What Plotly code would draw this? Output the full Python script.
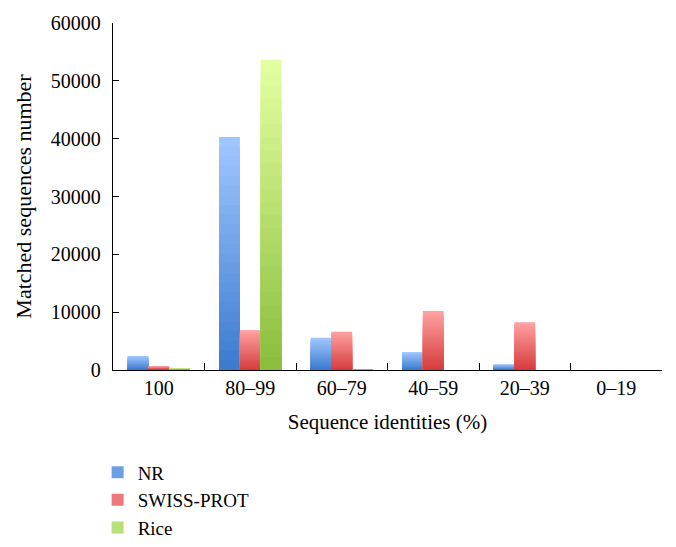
import plotly.graph_objects as go

categories = ["100", "80–99", "60–79", "40–59", "20–39", "0–19"]
nr_values = [2420, 40300, 5580, 3100, 980, 0]
swiss_values = [640, 6900, 6620, 10190, 8240, 0]
rice_values = [290, 53650, 90, 0, 0, 0]

series_names = ["NR", "SWISS-PROT", "Rice"]
series_values = [nr_values, swiss_values, rice_values]
top_colors = [(160, 198, 255), (255, 160, 160), (226, 255, 160)]
bottom_colors = [(60, 124, 206), (214, 62, 62), (140, 190, 62)]
legend_colors = ["#6d9fe6", "#ec7a7a", "#b6e07a"]

FONT = "Liberation Serif"
N = 24

fig = go.Figure()
for s, (name, vals) in enumerate(zip(series_names, series_values)):
    t0, b0 = top_colors[s], bottom_colors[s]
    for k in range(N):
        f = k / (N - 1)
        col = "rgb({},{},{})".format(*[round(t0[i] + (b0[i] - t0[i]) * f) for i in range(3)])
        frac = 1 - k / N
        fig.add_trace(go.Bar(
            x=categories,
            y=[v * frac for v in vals],
            name=name,
            offsetgroup=str(s),
            legendgroup=name,
            showlegend=False,
            marker=dict(color=col, line=dict(width=0)),
            hoverinfo="skip",
        ))
for s, name in enumerate(series_names):
    fig.add_trace(go.Bar(
        x=[None], y=[None], name=name, legendgroup=name, showlegend=True,
        marker=dict(color=legend_colors[s], line=dict(width=0)),
        offsetgroup=str(s),
    ))

fig.update_layout(
    width=676, height=547,
    margin=dict(l=105, r=22, t=15, b=185, autoexpand=False),
    barmode="group",
    bargap=0.32,
    bargroupgap=0,
    plot_bgcolor="white",
    paper_bgcolor="white",
    font=dict(family=FONT, size=20, color="black"),
    legend=dict(
        x=-0.028, y=-0.24, xanchor="left", yanchor="top",
        orientation="v", tracegroupgap=0,
        font=dict(family=FONT, size=19, color="black"),
        bgcolor="rgba(0,0,0,0)",
    ),
    xaxis=dict(
        showline=True, linecolor="black", linewidth=1.3,
        ticks="inside", ticklen=7, tickwidth=1.3, tickcolor="black",
        tickson="boundaries",
        tickfont=dict(family=FONT, size=20),
        title=dict(text="Sequence identities (%)", font=dict(family=FONT, size=21), standoff=16),
        showgrid=False, automargin=False,
    ),
    yaxis=dict(
        range=[0, 60000], dtick=10000, tickformat="d",
        showline=True, linecolor="black", linewidth=1.3,
        ticks="inside", ticklen=6, tickwidth=1.3, tickcolor="black",
        tickfont=dict(family=FONT, size=20),
        title=dict(text="Matched sequences number", font=dict(family=FONT, size=22), standoff=13),
        showgrid=False, zeroline=False, automargin=False,
        ticklabelstandoff=7,
    ),
)

fig.write_html("out.html")
